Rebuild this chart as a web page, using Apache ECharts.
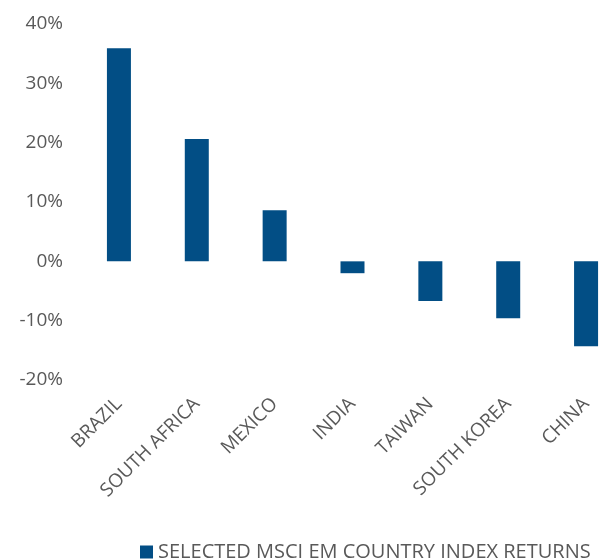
<!DOCTYPE html>
<html>
<head>
    <meta charset="utf-8">
    <title></title>
    <script src="https://cdn.jsdelivr.net/npm/echarts@6/dist/echarts.min.js"></script>
    <style>
        html, body { margin: 0; padding: 0; background: #fff; }
        #main { width: 605px; height: 559px; }
    </style>
</head>
<body>
<div id="main"></div>
<script type="text/javascript">
    var countries = ['BRAZIL', 'SOUTH AFRICA', 'MEXICO', 'INDIA', 'TAIWAN', 'SOUTH KOREA', 'CHINA'];
    var returns = [35.9, 20.6, 8.6, -2.0, -6.7, -9.6, -14.3];
    var seriesName = 'SELECTED MSCI EM COUNTRY INDEX RETURNS';

    var chart = echarts.init(document.getElementById('main'));
    var option = {
        animation: false,
        textStyle: { fontFamily: 'Open Sans' },
        grid: { left: 80, width: 545, top: 24, height: 356, outerBoundsMode: 'none', containLabel: false },
        legend: {
            data: [seriesName],
            left: 135,
            top: 537,
            itemWidth: 13,
            itemHeight: 13,
            itemGap: 4,
            icon: 'rect',
            textStyle: { color: '#595959', fontSize: 20, fontFamily: 'Open Sans' }
        },
        xAxis: {
            type: 'category',
            data: countries,
            axisLine: { show: false },
            axisTick: { show: false },
            axisLabel: {
                rotate: 45,
                interval: 0,
                margin: 21,
                color: '#595959',
                fontSize: 19
            }
        },
        yAxis: {
            type: 'value',
            min: -20,
            max: 40,
            interval: 10,
            splitLine: { show: false },
            axisLine: { show: false },
            axisTick: { show: false },
            axisLabel: {
                formatter: '{value}%',
                margin: 17,
                color: '#595959',
                fontSize: 19
            }
        },
        series: [
            {
                name: seriesName,
                type: 'bar',
                data: returns,
                barWidth: 24,
                itemStyle: { color: '#024e85' }
            }
        ]
    };
    chart.setOption(option);
</script>
</body>
</html>
